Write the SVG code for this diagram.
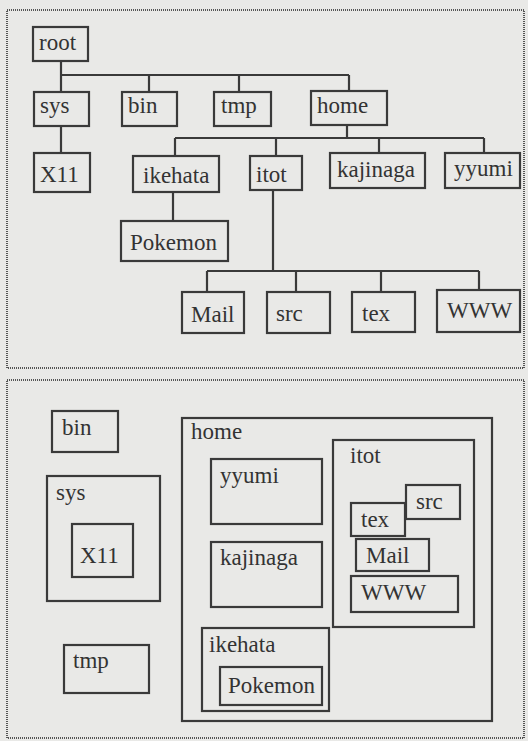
<svg xmlns="http://www.w3.org/2000/svg" width="528" height="741" viewBox="0 0 528 741">
<style>
.bg{fill:#e9e9e7}
.frame{fill:none;stroke:#555;stroke-width:2;stroke-dasharray:1 1}
rect.n{fill:none;stroke:#3a3a3a;stroke-width:2.2}
text{font-family:"Liberation Serif","Times New Roman",serif;font-size:23px;fill:#333}
.c{fill:none;stroke:#3a3a3a;stroke-width:2.2}
</style>
<rect class="bg" x="0" y="0" width="528" height="741"/>
<rect class="frame" x="7" y="10" width="517" height="358"/>
<rect class="frame" x="7" y="380" width="517" height="358"/>

<g id="connectors">
<path class="c" d="M61,61 V92 M61,75 H349 M149,75 V92 M239,75 V92 M349,75 V91"/>
<path class="c" d="M61,126 V153"/>
<path class="c" d="M347,125 V138 M175,138 H484 M175,138 V156 M276,138 V156 M379,138 V153 M484,138 V153"/>
<path class="c" d="M173,192 V221"/>
<path class="c" d="M273,190 V271 M207,271 H479 M207,271 V292 M296,271 V292 M381,271 V292 M479,271 V290"/>
</g>

<g id="t-root"><rect class="n" x="33" y="27" width="55" height="34"/><text x="39" y="50">root</text></g>
<g id="t-sys"><rect class="n" x="34" y="92" width="55" height="34"/><text x="40" y="113">sys</text></g>
<g id="t-bin"><rect class="n" x="122" y="92" width="55" height="34"/><text x="128" y="113">bin</text></g>
<g id="t-tmp"><rect class="n" x="214" y="92" width="57" height="34"/><text x="221" y="113">tmp</text></g>
<g id="t-home"><rect class="n" x="311" y="91" width="76" height="34"/><text x="317" y="113">home</text></g>
<g id="t-X11"><rect class="n" x="34" y="153" width="56" height="39"/><text x="40" y="182">X11</text></g>
<g id="t-ikehata"><rect class="n" x="133" y="156" width="86" height="36"/><text x="143" y="183">ikehata</text></g>
<g id="t-itot"><rect class="n" x="250" y="156" width="52" height="34"/><text x="256" y="182">itot</text></g>
<g id="t-kajinaga"><rect class="n" x="330" y="153" width="95" height="35"/><text x="337" y="177">kajinaga</text></g>
<g id="t-yyumi"><rect class="n" x="445" y="153" width="75" height="35"/><text x="454" y="176">yyumi</text></g>
<g id="t-Pokemon"><rect class="n" x="121" y="221" width="107" height="40"/><text x="130" y="250">Pokemon</text></g>
<g id="t-Mail"><rect class="n" x="182" y="292" width="62" height="41"/><text x="191" y="322">Mail</text></g>
<g id="t-src"><rect class="n" x="267" y="292" width="63" height="41"/><text x="276" y="321">src</text></g>
<g id="t-tex"><rect class="n" x="352" y="292" width="63" height="40"/><text x="362" y="321">tex</text></g>
<g id="t-WWW"><rect class="n" x="437" y="290" width="83" height="42"/><text x="447" y="318">WWW</text></g>

<g id="b-bin"><rect class="n" x="52" y="411" width="66" height="41"/><text x="62" y="435">bin</text></g>
<g id="b-sys"><rect class="n" x="47" y="476" width="113" height="125"/><text x="56" y="500">sys</text></g>
<g id="b-X11"><rect class="n" x="72" y="524" width="61" height="53"/><text x="80" y="563">X11</text></g>
<g id="b-tmp"><rect class="n" x="64" y="645" width="85" height="48"/><text x="73" y="668">tmp</text></g>
<g id="b-home"><rect class="n" x="182" y="418" width="310" height="303"/><text x="191" y="439">home</text></g>
<g id="b-yyumi"><rect class="n" x="211" y="459" width="111" height="65"/><text x="220" y="483">yyumi</text></g>
<g id="b-kajinaga"><rect class="n" x="211" y="542" width="111" height="65"/><text x="220" y="565">kajinaga</text></g>
<g id="b-ikehata"><rect class="n" x="202" y="628" width="127" height="83"/><text x="209" y="652">ikehata</text></g>
<g id="b-Pokemon"><rect class="n" x="220" y="667" width="102" height="38"/><text x="228" y="693">Pokemon</text></g>
<g id="b-itot"><rect class="n" x="333" y="440" width="141" height="187"/><text x="350" y="463">itot</text></g>
<g id="b-src"><rect class="n" x="406" y="485" width="54" height="34"/><text x="416" y="509">src</text></g>
<g id="b-tex"><rect class="n" x="351" y="503" width="54" height="33"/><text x="361" y="527">tex</text></g>
<g id="b-Mail"><rect class="n" x="356" y="539" width="73" height="32"/><text x="366" y="563">Mail</text></g>
<g id="b-WWW"><rect class="n" x="351" y="576" width="107" height="36"/><text x="361" y="600">WWW</text></g>
</svg>
